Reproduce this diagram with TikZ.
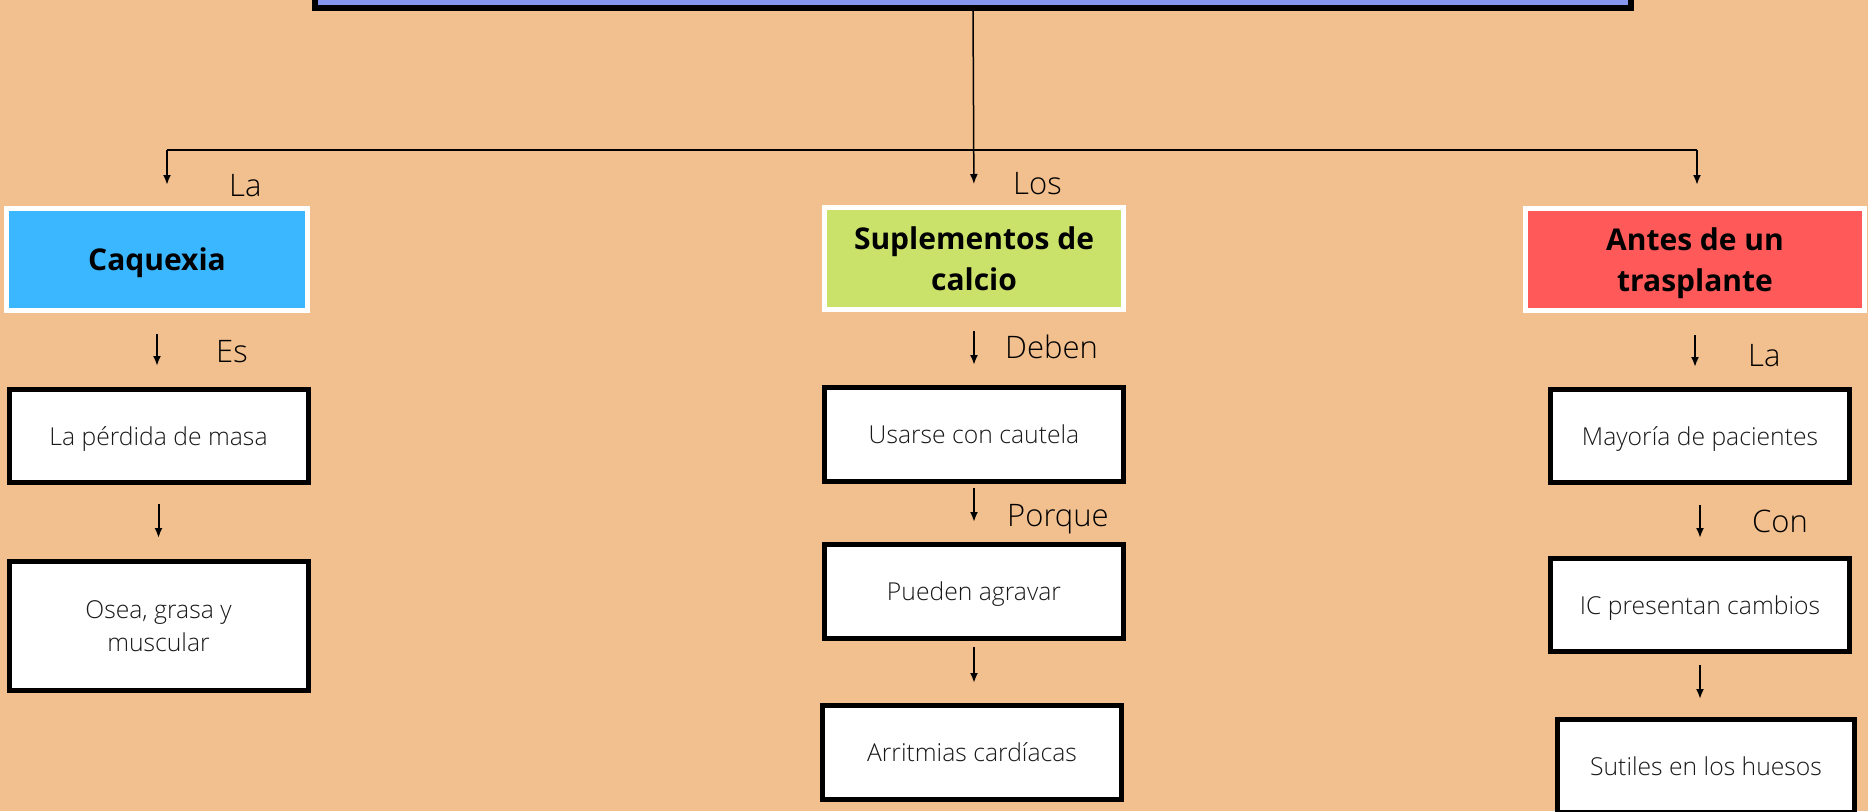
\documentclass[tikz,border=0pt]{standalone}
\usepackage{fontspec}
\setmainfont{Open Sans}
\newfontfamily\lightfont{Open Sans Light}
\usepackage{xcolor}
\usetikzlibrary{arrows.meta}
\definecolor{peach}{RGB}{242,192,143}
\definecolor{titleblue}{RGB}{133,150,240}
\definecolor{skyblue}{RGB}{59,183,255}
\definecolor{limegreen}{RGB}{203,226,106}
\definecolor{salmonred}{RGB}{255,89,89}

\begin{document}
\begin{tikzpicture}[x = 1pt, y = -1pt,
  head/.style = {draw = white, line width = 5pt, minimum height = 102pt, inner sep = 0, align = center, text depth = 0pt, font = \fontsize{30}{41}\selectfont\bfseries},
  item/.style = {draw = black, fill = white, line width = 5pt, minimum width = 299pt, minimum height = 93pt, inner sep = 0, align = center, text depth = 0pt, text = black!90, font = \lightfont\fontsize{24.7}{33}\selectfont},
  arr/.style = {line width = 2pt, -{Latex[length = 10pt, width = 8pt]}},
  lbl/.style = {anchor = base west, inner sep = 0, text = black, font = \lightfont\fontsize{31}{38}\selectfont}]
 \fill[peach] (0, 0) rectangle (1868, 811);
 \useasboundingbox (0, 0) rectangle (1868, 811);
 % title box, cut by the top edge
 \node (title) at (973, -40) [draw, fill = titleblue, line width = 6pt, minimum width = 1316pt, minimum height = 95pt] {};
 % the three heads
 \node (cqx) at (157, 259.5) [head, fill = skyblue, minimum width = 301pt] {Caquexia};
 \node (sup) at (974, 258.5) [head, fill = limegreen, minimum width = 299pt] {Suplementos de\\calcio};
 \node (ant) at (1695, 259.5) [head, fill = salmonred, minimum width = 339pt] {Antes de un\\trasplante};
 % left column
 \node (per) at (158.5, 436) [item] {La pérdida de masa};
 \node (ose) at (158.5, 626) [item, minimum height = 129pt] {Osea, grasa y\\muscular};
 % middle column
 \node (usa) at (974, 434.5) [item, minimum height = 94pt] {Usarse con cautela};
 \node (pue) at (974, 591.5) [item, minimum height = 94pt] {Pueden agravar};
 \node (arm) at (972, 752.5) [item, minimum height = 94pt] {Arritmias cardíacas};
 % right column
 \node (may) at (1700, 436) [item] {Mayoría de pacientes};
 \node (ic) at (1700, 605) [item] {IC presentan cambios};
 \node (sut) at (1706, 766) [item, minimum width = 297pt] {Sutiles en los huesos};
 % branching
 \coordinate (barL) at (167, 150);
 \coordinate (barR) at (1697, 150);
 \draw[line width = 2pt] (barL) -- (barR);
 \draw[arr, line width = 1.5pt, shorten > = 21pt] (title.south) -- (sup.north);
 \draw[arr, shorten > = 21pt] (barL) -- (barL |- cqx.north);
 \draw[arr, shorten > = 21pt] (barR) -- (barR |- ant.north);
 % arrows between boxes
 \draw[arr, shorten < = 21pt, shorten > = 21pt] (cqx.south) -- (cqx.south |- per.north);
 \draw[arr, shorten < = 19pt, shorten > = 21pt] (per.south) -- (ose.north);
 \draw[arr, shorten < = 19pt, shorten > = 20pt] (sup.south) -- (usa.north);
 \draw[arr, shorten < = 4pt, shorten > = 20pt] (usa.south) -- (pue.north);
 \draw[arr, shorten < = 6pt, shorten > = 20pt] (pue.south) -- (pue.south |- arm.north);
 \draw[arr, shorten < = 22pt, shorten > = 20pt] (ant.south) -- (ant.south |- may.north);
 \draw[arr, shorten < = 20pt, shorten > = 18pt] (may.south) -- (ic.north);
 \draw[arr, shorten < = 11pt, shorten > = 18pt] (ic.south) -- (ic.south |- sut.north);
 % connector words
 \node (tLa) at (229, 196) [lbl] {La};
 \node (tLos) at (1013, 194) [lbl] {Los};
 \node (tEs) at (216, 362) [lbl] {Es};
 \node (tDeben) at (1005, 358) [lbl] {Deben};
 \node (tPorque) at (1007, 526) [lbl] {Porque};
 \node (tLa2) at (1748, 366) [lbl] {La};
 \node (tCon) at (1752, 532) [lbl] {Con};
\end{tikzpicture}
\end{document}
